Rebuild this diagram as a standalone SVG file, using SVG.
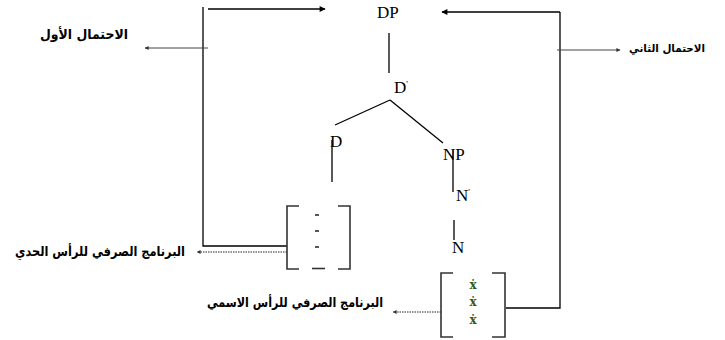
<svg xmlns="http://www.w3.org/2000/svg" width="725" height="340" viewBox="0 0 725 340">
<defs>
<marker id="ah" viewBox="0 0 10 10" refX="9" refY="5" markerWidth="7" markerHeight="6" orient="auto" markerUnits="userSpaceOnUse"><path d="M0,0 L10,5 L0,10 z" fill="#000"/></marker>
<marker id="ahs" viewBox="0 0 10 10" refX="9" refY="5" markerWidth="5" markerHeight="4" orient="auto" markerUnits="userSpaceOnUse"><path d="M0,0 L10,5 L0,10 z" fill="#333"/></marker>
</defs>
<style>
.ln{stroke:#000;stroke-width:1.3;fill:none}
.thin{stroke:#444;stroke-width:1;fill:none}
.dot{stroke:#222;stroke-width:1;stroke-dasharray:1.5,1;fill:none}
.br{stroke:#333;stroke-width:1.6;fill:none}
.lt{font-family:"Liberation Serif","Times New Roman",serif;font-size:17px;fill:#000}
.ar{font-family:"DejaVu Sans","Noto Sans",sans-serif;font-weight:bold;font-size:13.5px;fill:#000;text-anchor:middle}
.ar2{font-size:11px}
.sym{font-family:"DejaVu Serif",serif;font-size:12px;fill:#2f5a22;text-anchor:middle;font-weight:bold}
</style>
<rect width="725" height="340" fill="#fff"/>
<g id="connectors">
<path class="ln" d="M203,7 V246 H287"/>
<path class="ln" d="M208,9 H325" marker-end="url(#ah)"/>
<path class="thin" d="M208,48 H145" marker-end="url(#ahs)"/>
<path class="ln" d="M560,12 H442" marker-end="url(#ah)"/>
<path class="ln" d="M560,12 V308 H506"/>
<path class="thin" d="M557,50 H620" marker-end="url(#ahs)"/>
<path class="dot" d="M287,252 H197" marker-end="url(#ahs)"/>
<path class="dot" d="M441,312 H393" marker-end="url(#ahs)"/>
<path class="ln" d="M389,33 V73"/>
<path class="ln" d="M390,100 L335,125"/>
<path class="ln" d="M390,100 L443,143"/>
<path class="ln" d="M332,140 V182"/>
<path class="ln" d="M453,150 V192"/>
<path class="ln" d="M454,220 V240"/>
</g>
<g id="DP"><text class="lt" x="377" y="18">DP</text></g>
<g id="Dbar"><text class="lt" x="394" y="93">D<tspan font-size="9" dy="-6">'</tspan></text></g>
<g id="D"><text class="lt" x="330" y="147">D</text></g>
<g id="NP"><text class="lt" x="443" y="160">NP</text></g>
<g id="Nbar"><text class="lt" x="456" y="201">N<tspan font-size="9" dy="-6">'</tspan></text></g>
<g id="N"><text class="lt" x="452" y="253">N</text></g>
<g id="bracketD">
<path class="br" d="M299,206 H287 V269 H299"/>
<path class="br" d="M338,206 H350 V269 H338"/>
<path class="br" d="M312,268.5 H325"/>
<path stroke="#222" stroke-width="1.5" d="M315,215 H319 M315,231 H319 M315,247 H319"/>
</g>
<g id="bracketN">
<path class="br" d="M453,273 H441 V337 H453"/>
<path class="br" d="M492,273 H505 V337 H492"/>
<text class="sym" x="473" y="289">ẋ</text>
<text class="sym" x="473" y="306">ẋ</text>
<text class="sym" x="473" y="324">ẋ</text>
</g>
<g id="label1"><text class="ar" x="84" y="39" textLength="88" lengthAdjust="spacingAndGlyphs">الاحتمال الأول</text></g>
<g id="label2"><text class="ar ar2" x="667" y="52" textLength="76" lengthAdjust="spacingAndGlyphs">الاحتمال الثاني</text></g>
<g id="label3"><text class="ar" x="100" y="256" textLength="170" lengthAdjust="spacingAndGlyphs">البرنامج الصرفي للرأس الحدي</text></g>
<g id="label4"><text class="ar" x="295" y="307" textLength="176" lengthAdjust="spacingAndGlyphs">البرنامج الصرفي للرأس الاسمي</text></g>
</svg>
